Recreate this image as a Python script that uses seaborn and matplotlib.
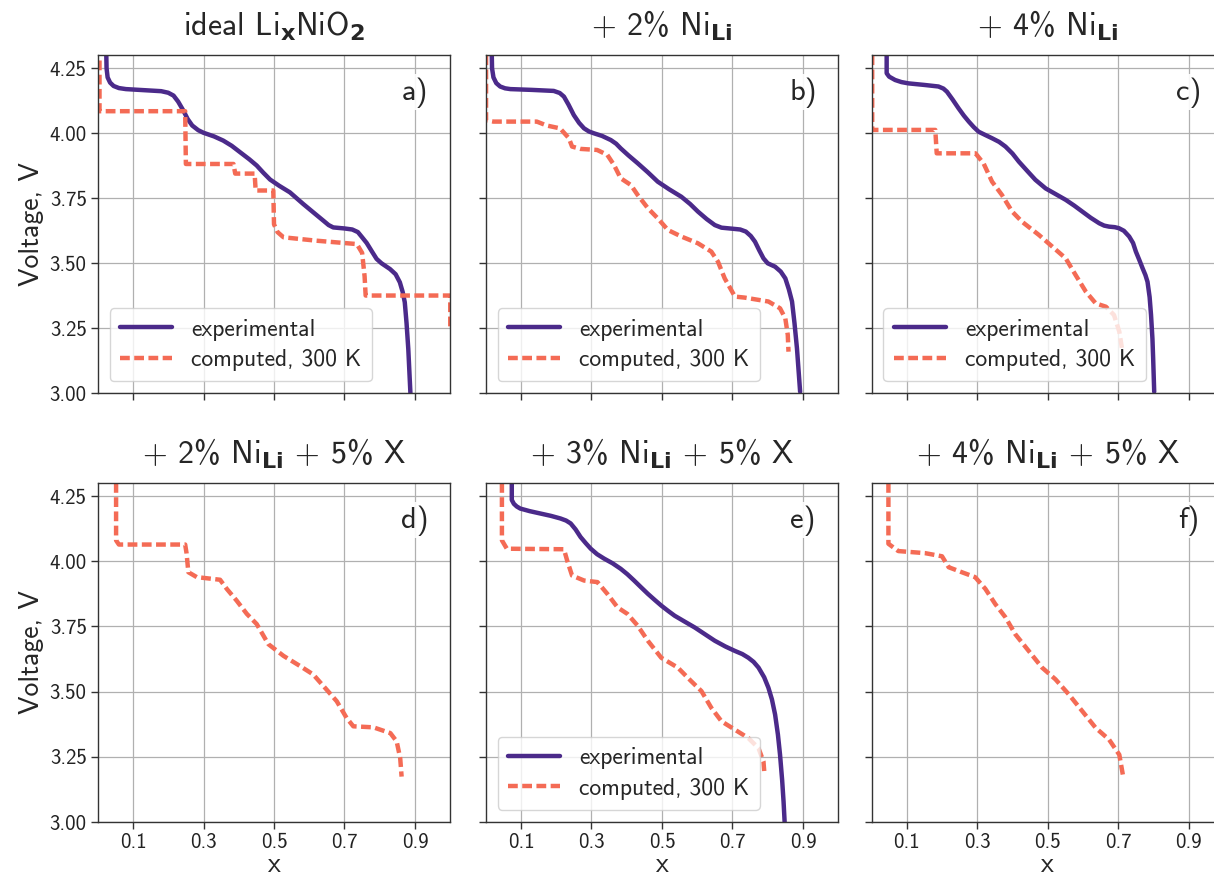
import numpy as np
import pandas as pd
import matplotlib
matplotlib.use("Agg")
import matplotlib.pyplot as plt
import seaborn as sns

sns.set_theme(style="whitegrid")
plt.rcParams['font.family'] = ['cmss10', 'DejaVu Sans']
plt.rcParams['mathtext.fontset'] = 'custom'
plt.rcParams['mathtext.rm'] = 'cmss10'
plt.rcParams['mathtext.bf'] = 'DejaVu Sans:bold'
plt.rcParams['axes.unicode_minus'] = False
plt.rcParams['axes.formatter.use_mathtext'] = True

# ---- data ----
exp_a_x = [0.024, 0.025, 0.028, 0.035, 0.045, 0.060, 0.080, 0.130, 0.180, 0.200, 0.215, 0.228,
           0.243, 0.255, 0.268, 0.285, 0.300, 0.330, 0.356, 0.380, 0.404, 0.430, 0.451, 0.470,
           0.489, 0.515, 0.545, 0.583, 0.615, 0.640, 0.655, 0.668, 0.700, 0.722, 0.738, 0.750,
           0.763, 0.778, 0.791, 0.805, 0.829, 0.845, 0.857, 0.865, 0.871, 0.876, 0.881, 0.887]
exp_a_v = [4.32, 4.25, 4.215, 4.195, 4.182, 4.174, 4.170, 4.166, 4.162, 4.156, 4.145, 4.122,
           4.087, 4.055, 4.030, 4.012, 4.002, 3.988, 3.972, 3.952, 3.927, 3.900, 3.876, 3.848,
           3.822, 3.798, 3.773, 3.728, 3.692, 3.664, 3.647, 3.638, 3.634, 3.630, 3.620, 3.600,
           3.578, 3.545, 3.517, 3.500, 3.478, 3.458, 3.427, 3.390, 3.350, 3.270, 3.170, 3.000]
calc_a_x = [0.005, 0.005, 0.248, 0.250, 0.385, 0.390, 0.445, 0.448, 0.498, 0.500, 0.510, 0.527,
            0.620, 0.735, 0.750, 0.757, 0.760, 1.000, 1.000]
calc_a_v = [4.28, 4.085, 4.085, 3.882, 3.882, 3.845, 3.845, 3.780, 3.780, 3.650, 3.620, 3.600,
            3.587, 3.574, 3.540, 3.450, 3.376, 3.376, 3.247]

exp_b_x = [0.017, 0.018, 0.022, 0.030, 0.041, 0.055, 0.070, 0.130, 0.193, 0.210, 0.222, 0.235,
           0.250, 0.265, 0.279, 0.293, 0.307, 0.330, 0.355, 0.370, 0.383, 0.405, 0.431, 0.460,
           0.488, 0.520, 0.555, 0.580, 0.602, 0.627, 0.650, 0.669, 0.700, 0.722, 0.738, 0.752,
           0.764, 0.776, 0.788, 0.800, 0.821, 0.837, 0.850, 0.860, 0.869, 0.876, 0.883, 0.892]
exp_b_v = [4.32, 4.25, 4.215, 4.193, 4.180, 4.173, 4.170, 4.167, 4.163, 4.155, 4.141, 4.110,
           4.070, 4.040, 4.019, 4.007, 4.000, 3.990, 3.974, 3.960, 3.942, 3.915, 3.885, 3.850,
           3.814, 3.785, 3.756, 3.728, 3.699, 3.670, 3.647, 3.637, 3.633, 3.630, 3.622, 3.605,
           3.583, 3.550, 3.519, 3.500, 3.487, 3.468, 3.442, 3.400, 3.353, 3.270, 3.173, 3.006]
calc_b_x = [0.001, 0.001, 0.022, 0.145, 0.173, 0.211, 0.236, 0.245, 0.269, 0.316, 0.345, 0.364,
            0.383, 0.412, 0.431, 0.460, 0.488, 0.517, 0.555, 0.602, 0.640, 0.659, 0.678, 0.707,
            0.735, 0.802, 0.835, 0.850, 0.857, 0.859]
calc_b_v = [4.30, 4.05, 4.045, 4.045, 4.03, 4.019, 3.981, 3.949, 3.94, 3.936, 3.917, 3.878,
            3.827, 3.801, 3.763, 3.712, 3.673, 3.628, 3.603, 3.577, 3.545, 3.506, 3.442, 3.372,
            3.368, 3.353, 3.327, 3.288, 3.224, 3.16]

exp_c_x = [0.043, 0.043, 0.050, 0.067, 0.085, 0.105, 0.150, 0.190, 0.204, 0.214, 0.230, 0.247,
           0.262, 0.276, 0.290, 0.304, 0.322, 0.342, 0.362, 0.380, 0.400, 0.418, 0.442, 0.465,
           0.494, 0.520, 0.551, 0.575, 0.598, 0.622, 0.646, 0.660, 0.674, 0.690, 0.702, 0.716,
           0.731, 0.742, 0.750, 0.760, 0.769, 0.777, 0.783, 0.789, 0.793, 0.797, 0.799, 0.802]
exp_c_v = [4.32, 4.231, 4.218, 4.205, 4.197, 4.192, 4.186, 4.180, 4.172, 4.160, 4.130, 4.096,
           4.068, 4.045, 4.024, 4.006, 3.994, 3.981, 3.967, 3.949, 3.922, 3.891, 3.855, 3.821,
           3.788, 3.768, 3.744, 3.722, 3.699, 3.675, 3.654, 3.645, 3.641, 3.639, 3.635, 3.625,
           3.603, 3.578, 3.545, 3.512, 3.481, 3.455, 3.429, 3.370, 3.301, 3.210, 3.135, 3.006]
calc_c_x = [0.002, 0.002, 0.181, 0.185, 0.295, 0.318, 0.342, 0.370, 0.399, 0.427, 0.475, 0.513,
            0.551, 0.579, 0.608, 0.636, 0.665, 0.688, 0.703, 0.712]
calc_c_v = [4.30, 4.013, 4.013, 3.923, 3.923, 3.884, 3.814, 3.763, 3.699, 3.66, 3.609, 3.564,
            3.519, 3.455, 3.391, 3.346, 3.333, 3.301, 3.237, 3.16]

calc_d_x = [0.052, 0.052, 0.060, 0.248, 0.252, 0.257, 0.281, 0.347, 0.366, 0.394, 0.423, 0.451,
            0.484, 0.527, 0.574, 0.611, 0.649, 0.678, 0.706, 0.725, 0.782, 0.830, 0.848, 0.858,
            0.862]
calc_d_v = [4.30, 4.08, 4.064, 4.064, 4.03, 3.958, 3.939, 3.929, 3.894, 3.849, 3.798, 3.759,
            3.682, 3.637, 3.598, 3.566, 3.508, 3.463, 3.399, 3.367, 3.363, 3.341, 3.309, 3.245,
            3.174]

exp_e_x = [0.074, 0.074, 0.080, 0.088, 0.098, 0.125, 0.155, 0.185, 0.212, 0.228, 0.241, 0.255,
           0.269, 0.284, 0.298, 0.316, 0.336, 0.360, 0.383, 0.402, 0.421, 0.440, 0.460, 0.480,
           0.498, 0.517, 0.536, 0.565, 0.593, 0.622, 0.650, 0.680, 0.707, 0.728, 0.745, 0.760,
           0.774, 0.790, 0.802, 0.812, 0.821, 0.829, 0.835, 0.841, 0.845, 0.848]
exp_e_v = [4.32, 4.235, 4.220, 4.210, 4.202, 4.192, 4.183, 4.174, 4.164, 4.156, 4.145, 4.122,
           4.093, 4.069, 4.048, 4.027, 4.010, 3.992, 3.971, 3.950, 3.926, 3.901, 3.875, 3.851,
           3.830, 3.810, 3.791, 3.768, 3.746, 3.720, 3.695, 3.673, 3.656, 3.644, 3.630, 3.614,
           3.592, 3.555, 3.515, 3.470, 3.412, 3.335, 3.258, 3.160, 3.078, 3.001]
calc_e_x = [0.046, 0.046, 0.060, 0.222, 0.231, 0.245, 0.279, 0.317, 0.345, 0.374, 0.402, 0.431,
            0.460, 0.498, 0.545, 0.583, 0.612, 0.640, 0.669, 0.707, 0.745, 0.774, 0.788, 0.791]
calc_e_v = [4.30, 4.08, 4.048, 4.046, 4.003, 3.945, 3.926, 3.92, 3.875, 3.823, 3.798, 3.753,
            3.695, 3.63, 3.592, 3.54, 3.502, 3.438, 3.386, 3.354, 3.322, 3.283, 3.232, 3.181]

calc_f_x = [0.048, 0.048, 0.076, 0.152, 0.200, 0.219, 0.256, 0.294, 0.323, 0.351, 0.380, 0.408,
            0.446, 0.484, 0.522, 0.560, 0.598, 0.636, 0.674, 0.703, 0.714]
calc_f_v = [4.30, 4.067, 4.039, 4.031, 4.019, 3.977, 3.958, 3.939, 3.894, 3.836, 3.785, 3.72,
            3.656, 3.592, 3.547, 3.489, 3.425, 3.361, 3.316, 3.258, 3.174]

titles = [r'ideal Li$_\mathbf{x}$NiO$_\mathbf{2}$', r'+ 2% Ni$_\mathbf{Li}$', r'+ 4% Ni$_\mathbf{Li}$',
          r'+ 2% Ni$_\mathbf{Li}$ + 5% X', r'+ 3% Ni$_\mathbf{Li}$ + 5% X', r'+ 4% Ni$_\mathbf{Li}$ + 5% X']
letters = ['a)', 'b)', 'c)', 'd)', 'e)', 'f)']
exp_data = [(exp_a_x, exp_a_v), (exp_b_x, exp_b_v), (exp_c_x, exp_c_v), None, (exp_e_x, exp_e_v), None]
calc_data = [(calc_a_x, calc_a_v), (calc_b_x, calc_b_v), (calc_c_x, calc_c_v),
             (calc_d_x, calc_d_v), (calc_e_x, calc_e_v), (calc_f_x, calc_f_v)]

x_ticks = [0.1, 0.3, 0.5, 0.7, 0.9]
y_ticks = [3.00, 3.25, 3.50, 3.75, 4.00, 4.25]

purple = '#4b2a8a'
coral = '#f46b55'

W, H = 1214, 876
fig = plt.figure(figsize=(W / 100, H / 100), dpi=100)

lefts = [97.75, 485.7, 871.5]
ax_w = 352.5
rows = [(393.3, 338.0), (822.0, 339.0)]  # (bottom px, height px)

for i in range(6):
    r, c = divmod(i, 3)
    bpx, hpx = rows[r]
    ax = fig.add_axes([lefts[c] / W, 1 - bpx / H, ax_w / W, hpx / H])

    if exp_data[i] is not None:
        df_e = pd.DataFrame({'x': exp_data[i][0], 'V': exp_data[i][1]})
        sns.lineplot(data=df_e, x='x', y='V', sort=False, estimator=None, ax=ax,
                     color=purple, lw=3.2, label='experimental')
    df_c = pd.DataFrame({'x': calc_data[i][0], 'V': calc_data[i][1]})
    sns.lineplot(data=df_c, x='x', y='V', sort=False, estimator=None, ax=ax,
                 color=coral, lw=3.2, ls=(0, (2.2, 1.0)), label='computed, 300 K')

    ax.set_xlim(0, 1)
    ax.set_ylim(3.0, 4.3)
    ax.set_xticks(x_ticks)
    ax.set_yticks(y_ticks)
    ax.set_yticklabels([f'{v:.2f}' for v in y_ticks])
    ax.set_xticklabels([f'{v:.1f}' for v in x_ticks])
    ax.grid(True, color='#b0b0b0', lw=0.9)
    for s in ax.spines.values():
        s.set_color('#333333')
        s.set_linewidth(1.0)
    ax.tick_params(axis='both', which='major', length=5, width=1, color='#333333',
                   labelsize=15, labelcolor='#222222', bottom=True, left=True, pad=3)

    if r == 0:
        ax.set_xlabel('')
        ax.tick_params(labelbottom=False)
    else:
        ax.set_xlabel('x', fontsize=20, labelpad=0)
    if c == 0:
        ax.set_ylabel('Voltage, V', fontsize=20, labelpad=4)
    else:
        ax.set_ylabel('')
        ax.tick_params(labelleft=False)

    ax.set_title(titles[i], fontsize=23, pad=14)
    ax.text(0.9, 0.89, letters[i], transform=ax.transAxes, fontsize=22, ha='center', va='center',
            bbox=dict(facecolor='white', edgecolor='none', alpha=0.9, pad=2))

    if exp_data[i] is not None:
        ax.legend(loc='lower left', fontsize=17, framealpha=0.8, borderpad=0.45,
                  handlelength=2.2, labelspacing=0.35, bbox_to_anchor=(0.0, 0.0))
    else:
        ax.get_legend().remove()

fig.savefig('out.png', dpi=100)
